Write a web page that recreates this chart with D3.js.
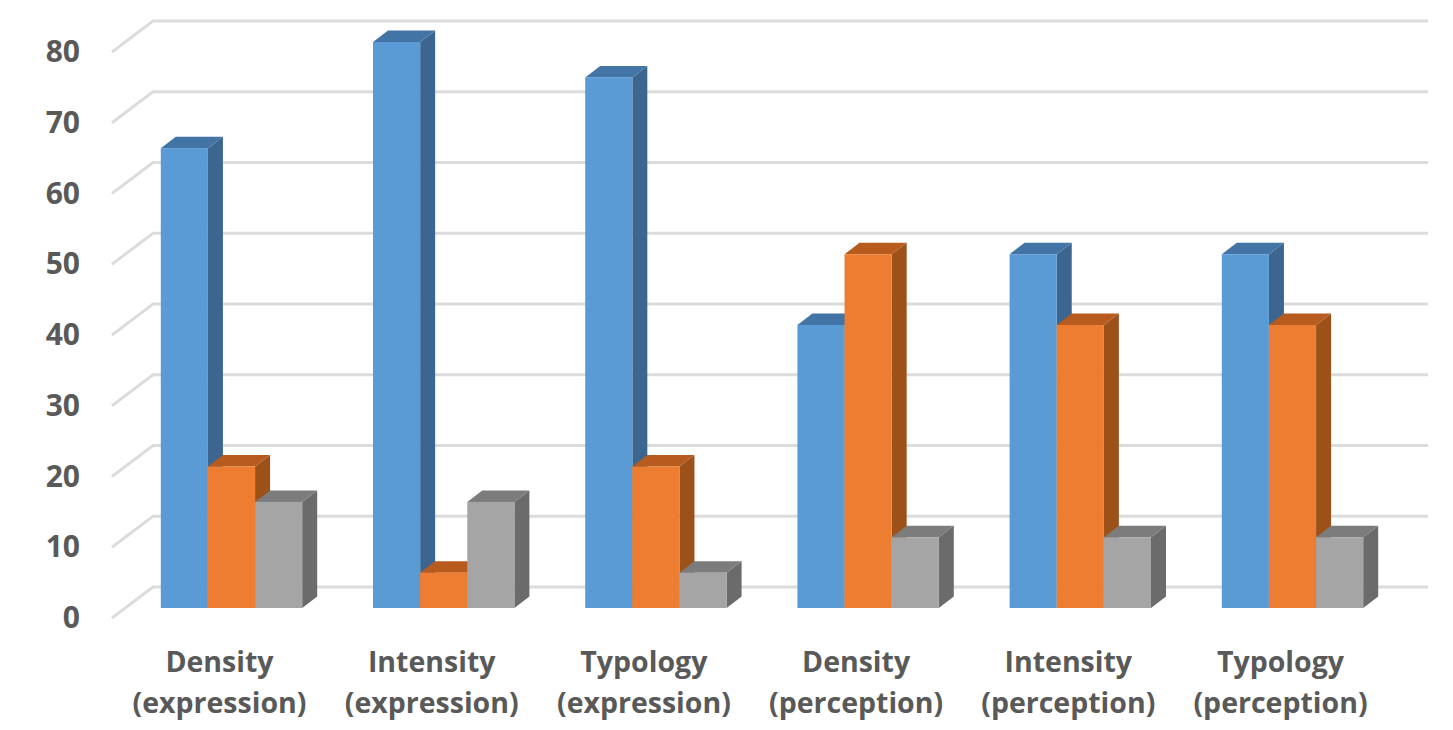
<!DOCTYPE html>
<html>
<head>
<meta charset="utf-8">
<script src="https://cdn.jsdelivr.net/npm/d3@7"></script>
<style>
  html, body { margin: 0; padding: 0; background: #fff; }
  text { font-family: "Open Sans", sans-serif; font-weight: 700; fill: #595959; }
</style>
</head>
<body>
<div id="chart"></div>
<script>
var categories = ["Density (expression)", "Intensity (expression)", "Typology (expression)",
                  "Density (perception)", "Intensity (perception)", "Typology (perception)"];
var seriesNames = ["A", "B", "C"];
var seriesA = [65, 80, 75, 40, 50, 50];
var seriesB = [20, 5, 20, 50, 40, 40];
var seriesC = [15, 15, 5, 10, 10, 10];
var yTicks = [0, 10, 20, 30, 40, 50, 60, 70, 80];

var front = ["#5b9bd5", "#ed7d31", "#a5a5a5"];
var top3d = ["#4275a5", "#b85b1e", "#7c7c7c"];
var side = ["#3c668f", "#9c5119", "#6b6b6b"];

var svgWidth = 1453;
var svgHeight = 730;

// how far the bar depth goes up and right
var depthX = 15;
var depthY = 11.5;

var svg = d3.select("#chart")
    .append("svg")
    .attr("width", svgWidth)
    .attr("height", svgHeight)
    .style("display", "block");

var xScale = d3.scaleBand()
    .domain(categories)
    .range([125.4, 1398.6])
    .paddingInner(0)
    .paddingOuter(0);

var xInner = d3.scaleBand()
    .domain(seriesNames)
    .range([35.4, 35.4 + 141.4]);

var yScale = d3.scaleLinear()
    .domain([0, 80])
    .range([608, 42]);

// gridlines: back wall plus the slanted bit on the floor
var grid = svg.append("g");
yTicks.forEach(function(t) {
    var yb = yScale(t) - 21;
    grid.append("path")
        .attr("d", `M112,${yScale(t) + 10}L153,${yb}L1428,${yb}`)
        .attr("fill", "none")
        .attr("stroke", "#dcdcdc")
        .attr("stroke-width", 3);
});

// y axis labels
var leftAxis = d3.axisLeft(yScale)
    .tickValues(yTicks)
    .tickSize(0)
    .tickPadding(0);

var axisG = svg.append("g")
    .attr("transform", "translate(80, 10)")
    .call(leftAxis);
axisG.select(".domain").remove();
axisG.selectAll("text")
    .attr("font-size", 30);

// bars
var rows = categories.map(function(c, i) {
    return [seriesA[i], seriesB[i], seriesC[i]];
});

var groups = svg.selectAll("g.cat")
    .data(rows)
    .enter()
    .append("g")
    .attr("class", "cat")
    .attr("transform", (d, i) => `translate(${xScale(categories[i])}, 0)`);

groups.each(function(row) {
    var g = d3.select(this);
    row.forEach(function(v, s) {
        var x0 = xInner(seriesNames[s]);
        var x1 = x0 + xInner.bandwidth();
        var yt = yScale(v);
        var yb = yScale(0);
        g.append("path")
            .attr("d", `M${x1},${yt}L${x1 + depthX},${yt - depthY}L${x1 + depthX},${yb - depthY}L${x1},${yb}Z`)
            .attr("fill", side[s]);
        g.append("path")
            .attr("d", `M${x0},${yt}L${x0 + depthX},${yt - depthY}L${x1 + depthX},${yt - depthY}L${x1},${yt}Z`)
            .attr("fill", top3d[s]);
        g.append("rect")
            .attr("x", x0)
            .attr("y", yt)
            .attr("width", x1 - x0)
            .attr("height", yb - yt)
            .attr("fill", front[s]);
    });
});

// category labels, two lines each
var labels = svg.selectAll("text.cat-label")
    .data(categories)
    .enter()
    .append("text")
    .attr("class", "cat-label")
    .attr("text-anchor", "middle")
    .attr("font-size", 28.5);

labels.each(function(d) {
    var parts = d.split(" ");
    var cx = xScale(d) + xScale.bandwidth() / 2 - 12;
    d3.select(this).append("tspan").attr("x", cx).attr("y", 672).text(parts[0]);
    d3.select(this).append("tspan").attr("x", cx).attr("y", 713).text(parts[1]);
});
</script>
</body>
</html>
